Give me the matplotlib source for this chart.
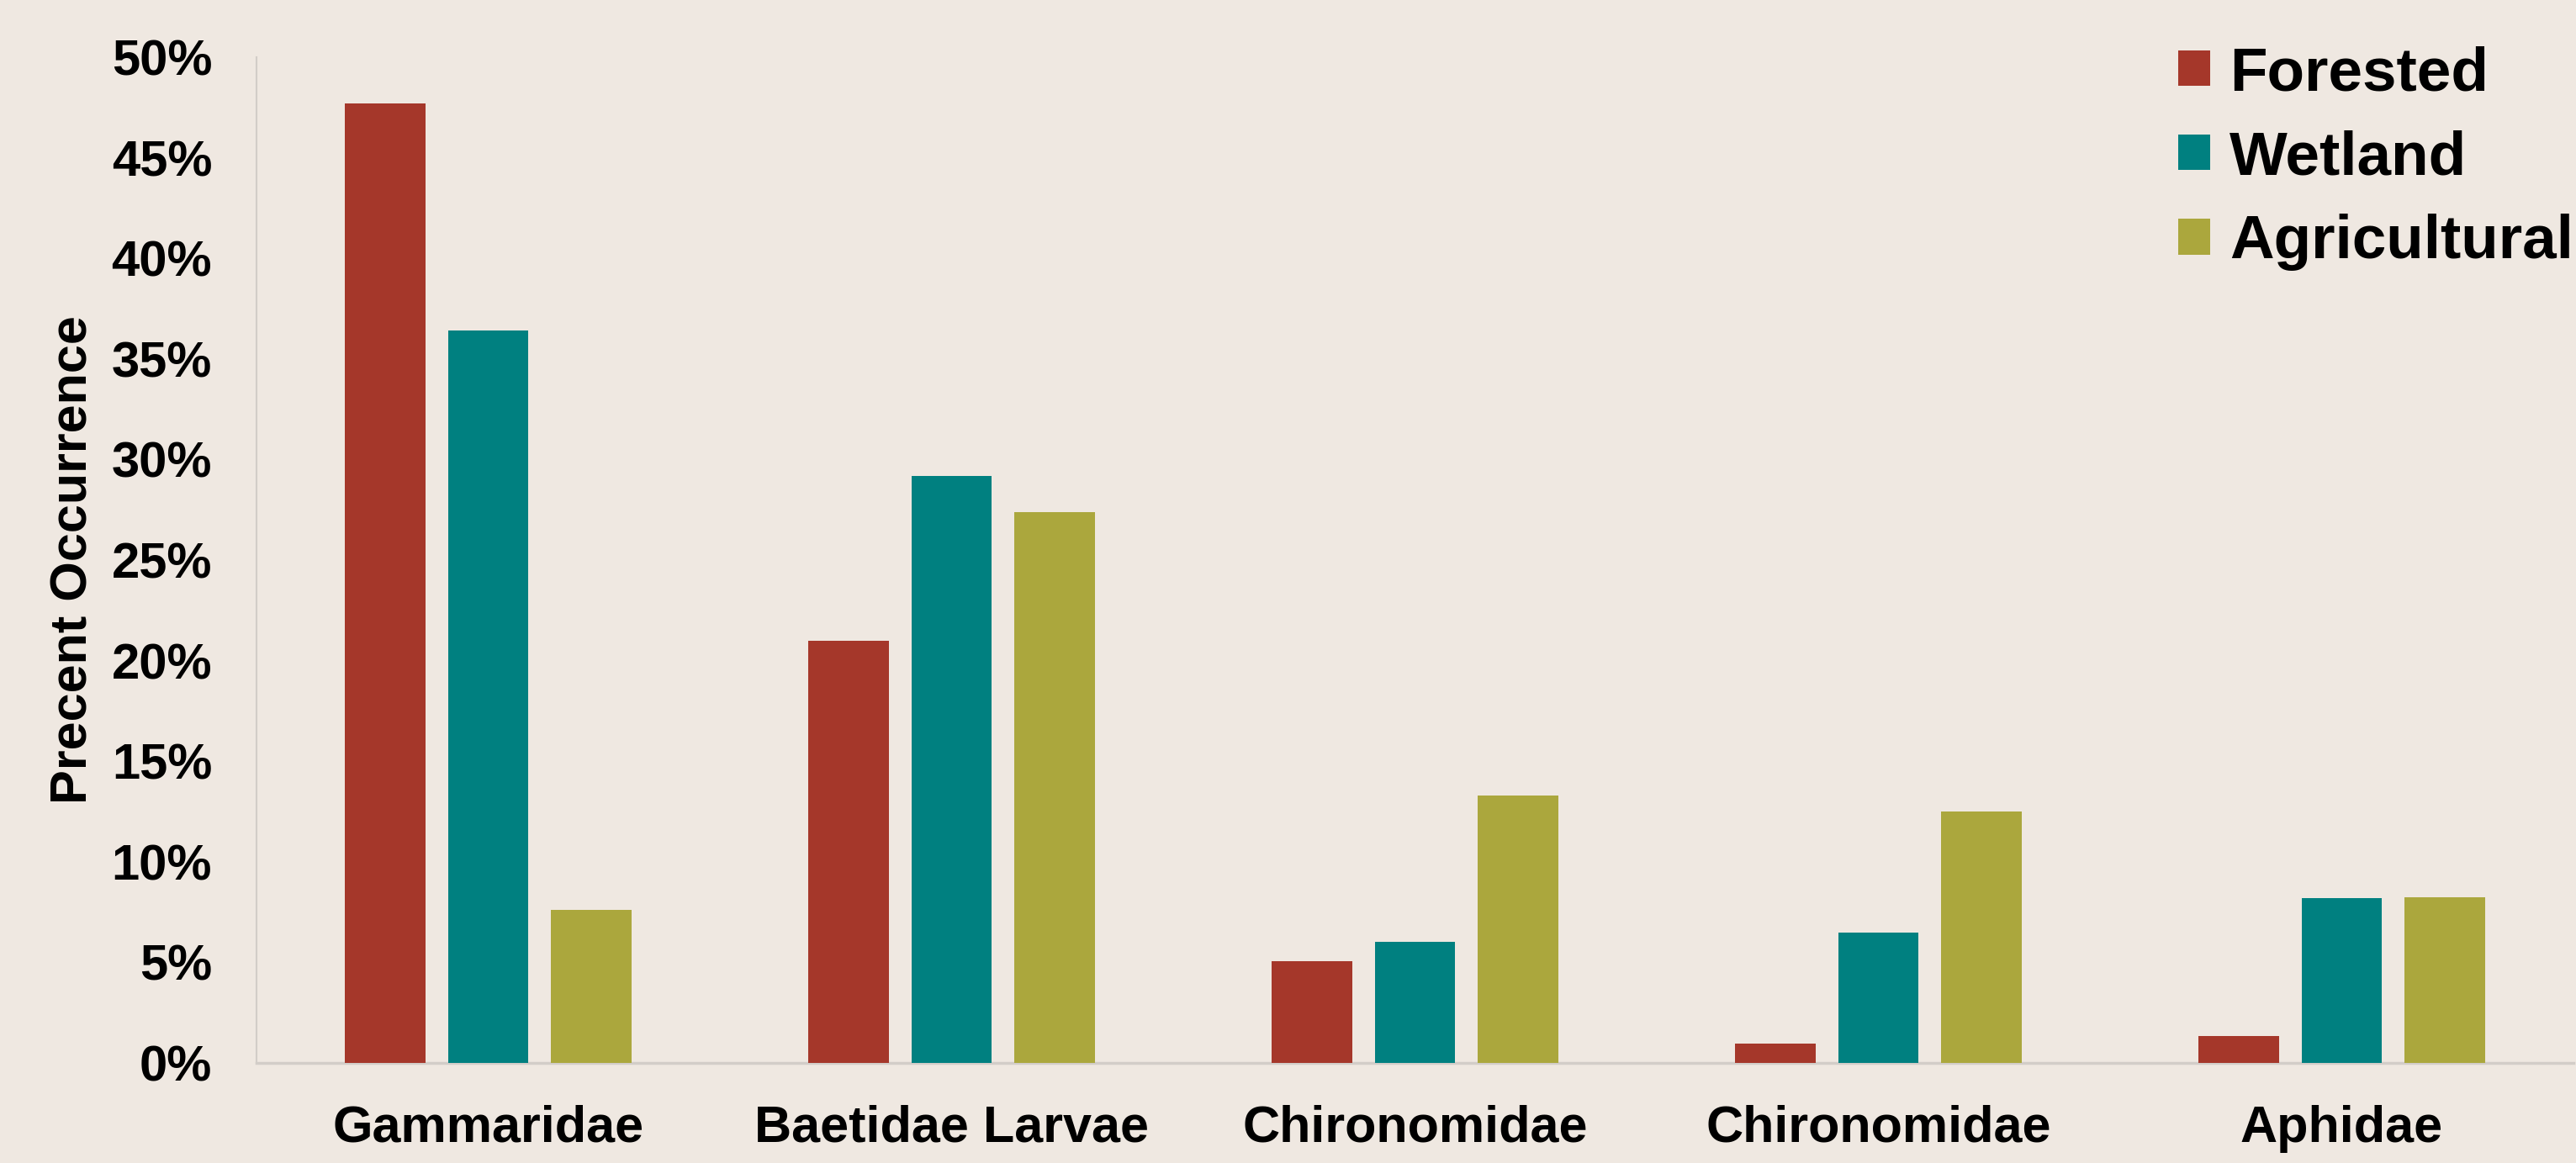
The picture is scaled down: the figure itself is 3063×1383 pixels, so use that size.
import matplotlib
matplotlib.use("Agg")
import matplotlib.pyplot as plt
import numpy as np
from matplotlib.patches import Patch

categories = ["Gammaridae", "Baetidae Larvae", "Chironomidae", "Chironomidae", "Aphidae"]
series_names = ["Forested", "Wetland", "Agricultural"]
forested = [47.7, 21.0, 5.05, 0.95, 1.33]
wetland = [36.4, 29.2, 6.0, 6.5, 8.2]
agricultural = [7.6, 27.4, 13.3, 12.5, 8.25]
yticks = [0, 5, 10, 15, 20, 25, 30, 35, 40, 45, 50]
ytick_labels = [f"{v}%" for v in yticks]

colors = ["#A5372A", "#008080", "#ABA73D"]
bg = "#EFE8E1"

plt.rcParams['font.family'] = ['Liberation Sans', 'DejaVu Sans']
plt.rcParams['font.weight'] = 'bold'

fig = plt.figure(figsize=(30.63, 13.83), dpi=100, facecolor=bg)
ax = fig.add_axes([305/3063, 119/1383, (3060-305)/3063, (1264-68)/1383])
ax.set_facecolor(bg)

x = np.arange(len(categories))
w = 0.174
step = 0.223
for i, (vals, c) in enumerate(zip([forested, wetland, agricultural], colors)):
    ax.bar(x + (i - 1) * step, vals, width=w, color=c, label=series_names[i], zorder=3)

ax.set_xlim(-0.5, len(categories) - 0.5)
ax.set_ylim(0, 50)
ax.set_yticks(yticks)
ax.set_yticklabels(ytick_labels, fontsize=43, fontweight='bold')
ax.set_xticks(x)
ax.set_xticklabels(categories, fontsize=44, fontweight='bold')
ax.tick_params(axis='both', length=0)
ax.tick_params(axis='y', pad=38)
ax.tick_params(axis='x', pad=36)

for s in ['top', 'right']:
    ax.spines[s].set_visible(False)
ax.spines['left'].set_color('#D2CDC8')
ax.spines['left'].set_linewidth(1.5)
ax.spines['bottom'].set_color('#D2CDC8')
ax.spines['bottom'].set_linewidth(2.5)

fig.text(88/3063, 1 - 666/1383, "Precent Occurrence", rotation=90, fontsize=44,
         fontweight='bold', ha='center', va='center')

handles = [Patch(facecolor=c, edgecolor='none') for c in colors]
leg = fig.legend(handles, series_names, loc='upper right',
                 bbox_to_anchor=(3060/3063, 1 - 54/1383), frameon=False,
                 prop={'family': 'Liberation Sans', 'weight': 'bold', 'size': 52.5},
                 handlelength=0.52, handleheight=0.52, handletextpad=0.32,
                 labelspacing=0.44, borderpad=0, borderaxespad=0)

fig.savefig("out.png", dpi=100, facecolor=bg)
